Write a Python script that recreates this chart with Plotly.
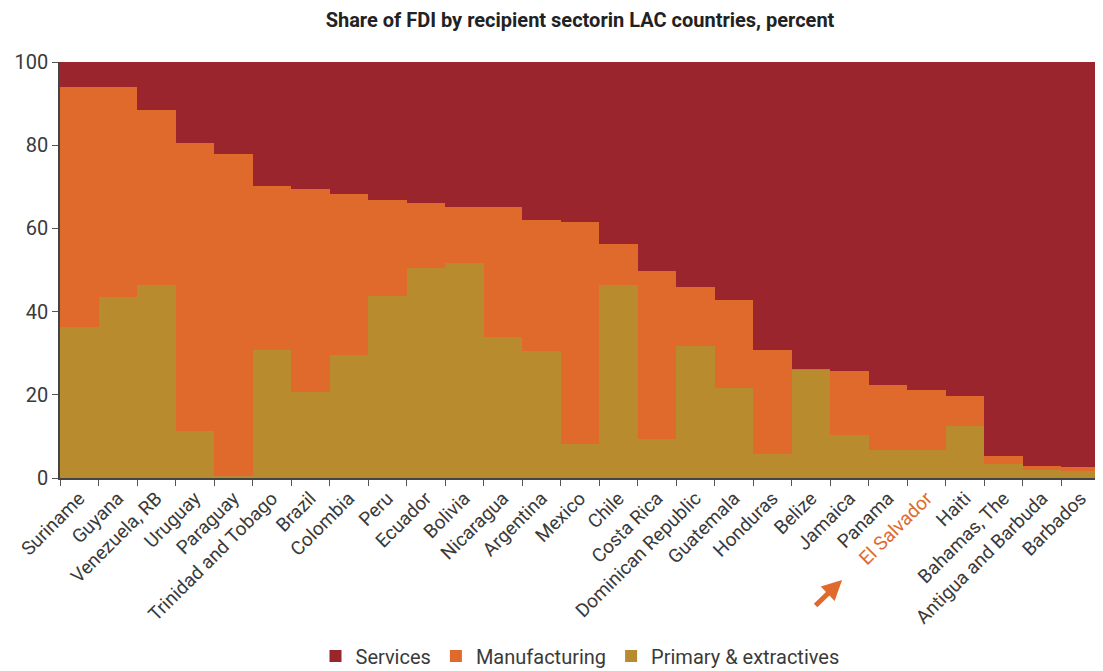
import plotly.graph_objects as go

countries = ["Suriname", "Guyana", "Venezuela, RB", "Uruguay", "Paraguay", "Trinidad and Tobago",
             "Brazil", "Colombia", "Peru", "Ecuador", "Bolivia", "Nicaragua", "Argentina", "Mexico",
             "Chile", "Costa Rica", "Dominican Republic", "Guatemala", "Honduras", "Belize", "Jamaica",
             "Panama", "El Salvador", "Haiti", "Bahamas, The", "Antigua and Barbuda", "Barbados"]

primary = [36.3, 43.5, 46.4, 11.3, 0.5, 30.8, 20.7, 29.6, 43.8, 50.5, 51.7, 33.9, 30.5, 8.2,
           46.4, 9.4, 31.8, 21.7, 5.8, 26.1, 10.3, 6.7, 6.7, 12.5, 3.4, 1.9, 1.7]
manuf_plus_primary = [94.0, 94.0, 88.5, 80.5, 77.9, 70.2, 69.5, 68.3, 66.8, 66.1, 65.1, 65.1, 62.0, 61.5,
                      56.2, 49.8, 45.9, 42.8, 30.8, 26.2, 25.7, 22.4, 21.2, 19.7, 5.3, 2.9, 2.7]
manufacturing = [round(t - p, 1) for t, p in zip(manuf_plus_primary, primary)]
services = [round(100 - t, 1) for t in manuf_plus_primary]

y_ticks = [0, 20, 40, 60, 80, 100]
highlight = "El Salvador"

C_SERV = "#9A252D"
C_MAN = "#E06A2C"
C_PRIM = "#B88B2F"
TXT = "#3a3a3a"
FONT = "Roboto"

fig = go.Figure()
fig.add_trace(go.Bar(x=countries, y=primary, name="Primary & extractives", marker_color=C_PRIM,
                     marker_line_width=0, legendrank=3))
fig.add_trace(go.Bar(x=countries, y=manufacturing, name="Manufacturing", marker_color=C_MAN,
                     marker_line_width=0, legendrank=2))
fig.add_trace(go.Bar(x=countries, y=services, name="Services", marker_color=C_SERV,
                     marker_line_width=0, legendrank=1))

ticktext = [f'<span style="color:{C_MAN}">{c}</span>' if c == highlight else c for c in countries]

# page body has an 8px default margin, so the figure is sized to fit the window
fig.update_layout(
    barmode="stack", bargap=0,
    width=1095, height=663,
    margin=dict(l=52, r=3, t=54, b=193, autoexpand=False),
    paper_bgcolor="white", plot_bgcolor="white",
    font=dict(family=FONT, color=TXT, size=18),
    title=dict(text="<b>Share of FDI by recipient sectorin LAC countries, percent</b>",
               x=0.5, xref="paper", xanchor="center", y=0.982, yanchor="middle",
               font=dict(family=FONT, size=20, color="#222")),
    legend=dict(orientation="h", x=0.5, xanchor="center", xref="paper", y=-0.428, yanchor="middle",
                font=dict(size=20, color=TXT), traceorder="normal", itemwidth=30),
    showlegend=True,
)
fig.update_xaxes(tickmode="array", tickvals=countries, ticktext=ticktext, tickangle=-45,
                 tickson="boundaries", ticks="outside", ticklen=6, tickcolor="#555",
                 showline=True, linecolor="#444", linewidth=1.5, showgrid=False, automargin=False,
                 tickfont=dict(size=19, color=TXT))
fig.update_yaxes(range=[0, 100], tickvals=y_ticks, ticks="outside", ticklen=6, tickcolor="#555",
                 showline=True, linecolor="#444", linewidth=1.5, showgrid=False, zeroline=False,
                 automargin=False, tickfont=dict(size=20, color=TXT))

fig.add_annotation(xref="paper", yref="paper", x=0.752, y=-0.245, ax=-28, ay=27,
                   text="", showarrow=True, arrowhead=2, arrowsize=0.8, arrowwidth=5,
                   arrowcolor=C_MAN)

fig.write_html("out.html")
